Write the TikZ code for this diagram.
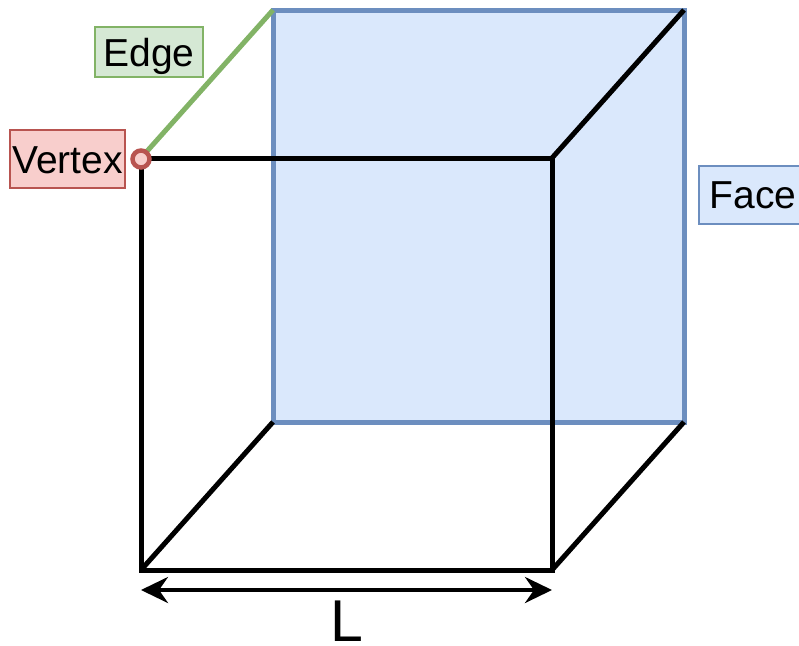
\documentclass[tikz,border=0pt]{standalone}
\usepackage{fontspec}
\setmainfont{Liberation Sans}
\usetikzlibrary{arrows.meta}
\definecolor{bluefill}{HTML}{DAE8FC}
\definecolor{blueline}{HTML}{6C8EBF}
\definecolor{greenfill}{HTML}{D5E8D4}
\definecolor{greenline}{HTML}{82B366}
\definecolor{redfill}{HTML}{F8CECC}
\definecolor{redline}{HTML}{B85450}
\tikzset{
  cubeedge/.style={draw=black,line width=5pt,line cap=butt,line join=miter},
  labelbox/.style={font=\fontsize{39}{41}\selectfont,inner sep=0pt,text height=28pt,text depth=0pt,line width=1.3pt,anchor=center},
  dim/.style={draw=black,line width=4pt,{Stealth[length=27pt,width=26pt,inset=9pt]}-{Stealth[length=27pt,width=26pt,inset=9pt]}}
}
\begin{document}
\begin{tikzpicture}[x=1pt,y=-1pt]
\useasboundingbox (0,0) rectangle (799,645);
% corners
\coordinate (ftl) at (141,158);
\coordinate (ftr) at (552,158);
\coordinate (fbl) at (141,570);
\coordinate (fbr) at (552,570);
\coordinate (btl) at (273,10);
\coordinate (btr) at (684,10);
\coordinate (bbl) at (273,422);
\coordinate (bbr) at (684,422);
% back face
\draw[fill=bluefill,draw=blueline,line width=5pt] (btl) -- (btr) -- (bbr) -- (bbl) -- cycle;
% cube edges
\draw[cubeedge] (ftl) -- (ftr) -- (fbr) -- (fbl) -- cycle;
\draw[cubeedge] (ftr) -- (btr);
\draw[cubeedge] (fbl) -- (bbl);
\draw[cubeedge] (fbr) -- (bbr);
% green edge
\draw[draw=greenline,line width=5pt] (ftl) -- (btl);
% vertex marker
\node[circle,draw=redline,fill=redfill,line width=4.5pt,minimum size=17pt,inner sep=0pt] (vtx) at (141,159) {};
% labels
\node[labelbox,draw=greenline,fill=greenfill,minimum width=108pt,minimum height=50pt] (edge) at (149,52) {Edge};
\node[labelbox,draw=redline,fill=redfill,minimum width=115pt,minimum height=58pt] (vertex) at (67.5,159) {Vertex};
\node[draw=blueline,fill=bluefill,line width=1.3pt,minimum width=120pt,minimum height=58pt,inner sep=0pt] (faceb) at (759,195) {};
\node[labelbox,anchor=west] (face) at (709,194) {Face};
% dimension
\coordinate (dl) at (141,590);
\coordinate (dr) at (552,590);
\draw[dim] (dl) -- (dr);
\node[font=\fontsize{59}{61}\selectfont,inner sep=0pt] (len) at (347,621) {L};
\end{tikzpicture}
\end{document}
